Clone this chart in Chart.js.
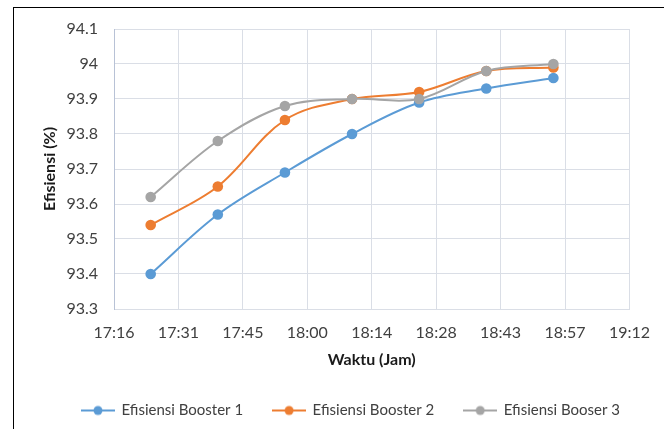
<!DOCTYPE html>
<html>
<head>
<meta charset="utf-8">
<script src="https://cdn.jsdelivr.net/npm/chart.js@4.4.1/dist/chart.umd.min.js"></script>
<style>
  html, body { margin: 0; padding: 0; background: #fff; }
  #wrap { position: relative; width: 664px; height: 429px; overflow: hidden; }
  #frame { position: absolute; left: 13px; top: 7px; right: -5px; bottom: -5px;
           border-left: 1px solid #000; border-top: 1px solid #000; pointer-events: none; }
  canvas { position: absolute; left: 0; top: 0; }
</style>
</head>
<body>
<div id="wrap">
  <canvas id="chart" width="664" height="429"></canvas>
  <div id="frame"></div>
</div>
<script>
// Measurement times (hh:mm) and efficiency of each booster pump (%)
const times = ['17:25', '17:40', '17:55', '18:10', '18:25', '18:40', '18:55'];
const booster1 = [93.40, 93.57, 93.69, 93.80, 93.89, 93.93, 93.96];
const booster2 = [93.54, 93.65, 93.84, 93.90, 93.92, 93.98, 93.99];
const booster3 = [93.62, 93.78, 93.88, 93.90, 93.90, 93.98, 94.00];
const seriesNames = ['Efisiensi Booster 1', 'Efisiensi Booster 2', 'Efisiensi Booser 3'];
const seriesColors = ['#5B9BD5', '#ED7D31', '#A5A5A5'];

// Axis ranges: time axis in fractions of a day (spreadsheet style), step 0.01 day
const xMin = 0.72, xMax = 0.80, xStep = 0.01;
const yMin = 93.3, yMax = 94.1, yStep = 0.1;

const FONT = 'Lato, "Liberation Sans", sans-serif';

function toDayFraction(hhmm) {
  const [h, m] = hhmm.split(':').map(Number);
  return (h * 60 + m) / 1440;
}
function formatTime(day) {
  const mins = Math.floor(day * 1440 + 1e-6);
  const h = Math.floor(mins / 60), m = mins % 60;
  return h + ':' + String(m).padStart(2, '0');
}
function points(values) {
  return values.map((v, i) => ({ x: toDayFraction(times[i]), y: v }));
}

// Legend icon: short line with a dot in the middle
function legendIcon(color) {
  const c = document.createElement('canvas');
  c.width = 34; c.height = 12;
  const g = c.getContext('2d');
  g.strokeStyle = color; g.lineWidth = 2;
  g.beginPath(); g.moveTo(0, 6); g.lineTo(34, 6); g.stroke();
  g.fillStyle = color;
  g.beginPath(); g.arc(17, 6, 4.5, 0, Math.PI * 2); g.fill();
  return c;
}

// Nudge the legend row to the right so it sits under the middle of the frame
const legendShift = {
  id: 'legendShift',
  afterLayout(chart) {
    if (chart.legend) { chart.legend.left += 20; chart.legend.right += 20; }
  }
};

const allSeries = [booster1, booster2, booster3];
const datasets = allSeries.map((vals, i) => ({
  label: seriesNames[i],
  data: points(vals),
  borderColor: seriesColors[i],
  backgroundColor: seriesColors[i],
  borderWidth: 2,
  pointRadius: 5.3,
  pointBorderWidth: 0,
  pointBackgroundColor: seriesColors[i],
  tension: 0.35,
  fill: false,
  order: 2 - i
}));

const gridColor = '#dadee6';

new Chart(document.getElementById('chart'), {
  type: 'line',
  data: { datasets },
  plugins: [legendShift],
  options: {
    responsive: false,
    animation: false,
    layout: { padding: { left: 32, right: 30, top: 29, bottom: 1 } },
    scales: {
      x: {
        type: 'linear',
        min: xMin, max: xMax,
        ticks: {
          stepSize: xStep,
          padding: 14,
          color: '#404040',
          font: { family: FONT, size: 16 },
          maxRotation: 0,
          callback: v => formatTime(v)
        },
        grid: { color: gridColor, drawTicks: false },
        border: { color: gridColor },
        title: {
          display: true, text: 'Waktu (Jam)', color: '#1a1a1a',
          font: { family: FONT, size: 16, weight: 'bold' },
          padding: { top: 0, bottom: 4 }
        },
        afterFit: s => { s.height = 64; }
      },
      y: {
        type: 'linear',
        min: yMin, max: yMax,
        ticks: {
          stepSize: yStep,
          padding: 16,
          color: '#404040',
          font: { family: FONT, size: 16 },
          callback: v => String(parseFloat(Number(v).toFixed(2)))
        },
        grid: { color: gridColor, drawTicks: false },
        border: { color: '#b8c2d6' },
        title: {
          display: true, text: 'Efisiensi (%)', color: '#1a1a1a',
          font: { family: FONT, size: 16, weight: 'bold' },
          padding: { top: 8, bottom: 0 }
        },
        afterFit: s => { s.width = 82; }
      }
    },
    plugins: {
      tooltip: { enabled: false },
      legend: {
        position: 'bottom',
        align: 'start',
        labels: {
          usePointStyle: true,
          pointStyleWidth: 32,
          padding: 30,
          color: '#404040',
          font: { family: FONT, size: 15 },
          sort: (a, b) => a.datasetIndex - b.datasetIndex,
          generateLabels: chart =>
            Chart.defaults.plugins.legend.labels.generateLabels(chart).map(item => ({
              ...item,
              pointStyle: legendIcon(seriesColors[item.datasetIndex])
            }))
        }
      }
    }
  }
});
</script>
</body>
</html>
